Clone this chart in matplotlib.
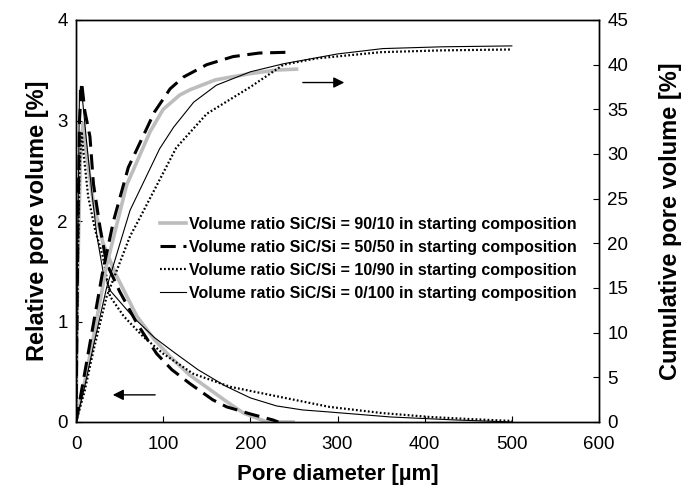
import numpy as np
import matplotlib.pyplot as plt
from matplotlib.lines import Line2D

plt.rcParams["font.family"] = ["Liberation Sans", "DejaVu Sans"]

labels = [
    "Volume ratio SiC/Si = 90/10 in starting composition",
    "Volume ratio SiC/Si = 50/50 in starting composition",
    "Volume ratio SiC/Si = 10/90 in starting composition",
    "Volume ratio SiC/Si = 0/100 in starting composition",
]

# relative pore volume [%] (left axis)
rel_9010_x = [0, 2, 5, 8, 12, 20, 31, 45, 70, 90, 108, 130, 154, 175, 192, 210, 219, 249]
rel_9010_y = [0, 1.5, 2.6, 2.97, 2.67, 2.18, 1.78, 1.48, 1.05, 0.82, 0.65, 0.47, 0.32, 0.19, 0.09, 0.03, 0.0, 0.0]

rel_5050_x = [0, 2, 4, 6.5, 10, 16, 20, 27.5, 35, 50, 70, 92.5, 110, 131, 157, 173, 181, 200, 226, 232]
rel_5050_y = [0, 1.8, 3.0, 3.38, 3.1, 2.84, 2.37, 1.94, 1.58, 1.3, 0.98, 0.68, 0.52, 0.38, 0.22, 0.15, 0.13, 0.08, 0.02, 0.0]

rel_1090_x = [0, 2, 4, 6.5, 8.4, 14, 22, 31, 39, 55, 77, 100, 134.5, 177, 211, 268, 291, 350, 406, 450, 501]
rel_1090_y = [0, 1.5, 2.5, 2.89, 2.7, 2.24, 1.91, 1.64, 1.25, 1.05, 0.85, 0.68, 0.48, 0.35, 0.29, 0.19, 0.15, 0.09, 0.05, 0.03, 0.01]

rel_0100_x = [0, 2, 4, 7, 12, 18, 24, 31, 40, 66, 90, 113, 140, 171, 200, 230, 260, 290, 361, 436, 500]
rel_0100_y = [0, 1.8, 3.3, 3.25, 2.8, 2.3, 1.85, 1.5, 1.3, 1.04, 0.84, 0.69, 0.52, 0.36, 0.24, 0.16, 0.12, 0.10, 0.05, 0.02, 0.0]

# cumulative pore volume [%] (right axis)
cum_9010_x = [0, 10, 20, 35, 58, 85, 100, 119, 131, 160, 200, 230, 253]
cum_9010_y = [0, 4.5, 9.5, 17.5, 26.5, 32.5, 35, 36.6, 37.2, 38.3, 39.0, 39.4, 39.5]

cum_5050_x = [0, 10, 20, 30, 43, 60, 77, 90, 108, 123, 150, 180, 210, 247]
cum_5050_y = [0, 5.5, 11, 16.5, 22.5, 28.5, 32, 34.7, 37.3, 38.6, 40.0, 40.9, 41.3, 41.4]

cum_1090_x = [0, 10, 20, 35, 62, 73, 115, 150, 200, 238, 276, 350, 420, 500]
cum_1090_y = [0, 3.5, 8, 14, 20.8, 22.8, 30.7, 34.5, 37.5, 40.0, 40.7, 41.4, 41.6, 41.7]

cum_0100_x = [0, 10, 20, 35, 62, 96, 112, 135, 161, 200, 238, 300, 352, 420, 500]
cum_0100_y = [0, 4, 8.5, 15, 23.7, 30.6, 33, 35.8, 37.7, 39.2, 40.1, 41.2, 41.8, 42.0, 42.1]

styles = [
    dict(color="#bdbdbd", lw=2.6, linestyle="-"),
    dict(color="black", lw=2.2, dashes=(5, 2.5)),
    dict(color="black", lw=1.6, dashes=(0.8, 1.0)),
    dict(color="black", lw=0.8, linestyle="-"),
]

fig = plt.figure(figsize=(6.83, 4.87), dpi=100)
ax = fig.add_axes([76 / 683, 65 / 487, 523 / 683, 402 / 487])
ax2 = ax.twinx()

rel = [(rel_9010_x, rel_9010_y), (rel_5050_x, rel_5050_y),
       (rel_1090_x, rel_1090_y), (rel_0100_x, rel_0100_y)]
cum = [(cum_9010_x, cum_9010_y), (cum_5050_x, cum_5050_y),
       (cum_1090_x, cum_1090_y), (cum_0100_x, cum_0100_y)]

for (x, y), st in zip(rel, styles):
    ax.plot(x, y, **st)
for (x, y), st in zip(cum, styles):
    ax2.plot(x, y, **st)

ax.set_xlim(0, 600)
ax.set_ylim(0, 4)
ax2.set_ylim(0, 45)
ax.set_xticks(range(0, 601, 100))
ax.set_yticks(range(0, 5))
ax2.set_yticks(range(0, 46, 5))

for a in (ax, ax2):
    a.tick_params(direction="in", length=4, width=0.8, labelsize=13.5, pad=6)
    for s in a.spines.values():
        s.set_linewidth(1.0)
ax.tick_params(axis="x", pad=10)

ax.set_xlabel("Pore diameter [\u00b5m]", fontsize=16, fontweight="bold", labelpad=8)
ax.set_ylabel("Relative pore volume [%]", fontsize=17, fontweight="bold", labelpad=6)
ax2.set_ylabel("Cumulative pore volume [%]", fontsize=17, fontweight="bold", labelpad=22)

# arrows pointing to the relevant axis
ax.annotate("", xy=(39, 0.27), xytext=(94, 0.27),
            arrowprops=dict(arrowstyle="-|>", color="black", lw=1.0, mutation_scale=16))
ax2.annotate("", xy=(311, 38.0), xytext=(257, 38.0),
             arrowprops=dict(arrowstyle="-|>", color="black", lw=1.0, mutation_scale=16))

handles = [Line2D([], [], **st) for st in styles]
ax2.legend(handles, labels, loc="upper left", bbox_to_anchor=(0.161, 0.51),
           frameon=False, prop=dict(weight="bold", size=11.5),
           handlelength=1.6, handletextpad=0.2, labelspacing=0.5,
           borderpad=0, borderaxespad=0)

fig.savefig("out.png", dpi=100)
